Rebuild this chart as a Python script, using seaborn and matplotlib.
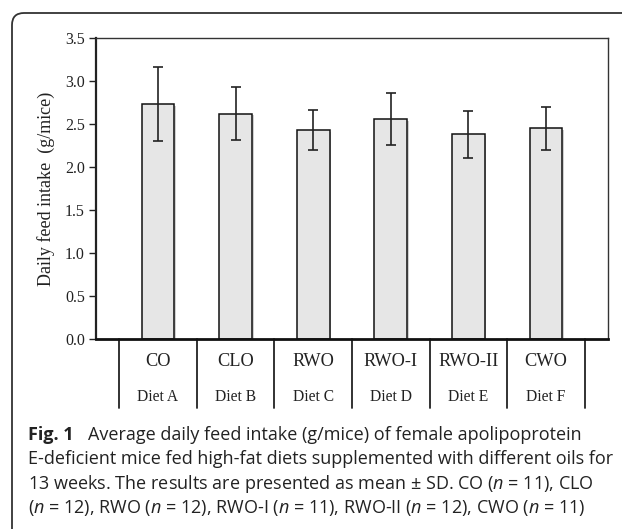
import numpy as np
import pandas as pd
import matplotlib
matplotlib.use("Agg")
import matplotlib.pyplot as plt
import matplotlib.patheffects as pe
import seaborn as sb
from matplotlib.patches import FancyBboxPatch
from matplotlib.transforms import IdentityTransform, blended_transform_factory

oils = ["CO", "CLO", "RWO", "RWO-I", "RWO-II", "CWO"]
diets = ["Diet A", "Diet B", "Diet C", "Diet D", "Diet E", "Diet F"]
intake_mean = [2.73, 2.62, 2.43, 2.56, 2.38, 2.45]
intake_sd = [0.43, 0.31, 0.23, 0.30, 0.27, 0.25]
y_ticks = [0.0, 0.5, 1.0, 1.5, 2.0, 2.5, 3.0, 3.5]

caption_rest = [
    "E-deficient mice fed high-fat diets supplemented with different oils for",
    "13 weeks. The results are presented as mean \u00b1 SD. CO ($n$ = 11), CLO",
    "($n$ = 12), RWO ($n$ = 12), RWO-I ($n$ = 11), RWO-II ($n$ = 12), CWO ($n$ = 11)",
]

t = pd.DataFrame({"oil": oils, "intake": intake_mean, "sd": intake_sd})

sb.set_theme(style="white")
plt.rcParams["font.family"] = "Liberation Serif"
plt.rcParams["mathtext.fontset"] = "custom"
plt.rcParams["mathtext.it"] = "Open Sans:italic"
plt.rcParams["mathtext.rm"] = "Open Sans"

W, H = 622, 529
fig = plt.figure(figsize=(W / 100, H / 100), dpi=100)
ax = fig.add_axes([96 / W, 1 - 339 / H, 512 / W, 301 / H])

sb.barplot(data=t, x="oil", y="intake", color="#e6e6e6", saturation=1,
           edgecolor="#111111", linewidth=1.1, width=0.42, errorbar=None, ax=ax)
for p in ax.patches:
    p.set_path_effects([pe.SimplePatchShadow(offset=(1.2, -1.2), alpha=0.25),
                        pe.Normal()])
ax.errorbar(np.arange(len(oils)), t["intake"], yerr=t["sd"], fmt="none",
            ecolor="#222222", elinewidth=1.2, capsize=3.3, capthick=1.2)

ax.set_ylim(0, 3.5)
ax.set_yticks(y_ticks)
ax.set_yticklabels([f"{v:.1f}" for v in y_ticks], fontsize=11.5, color="#222222")
ax.tick_params(axis="y", left=True, length=5, width=1, direction="out",
               pad=3, color="#222222")
ax.set_xticks([])
ax.set_xlabel("")
ax.set_ylabel("Daily feed intake  (g/mice)", fontsize=13, color="#222222",
              labelpad=7)

for side in ["top", "right"]:
    ax.spines[side].set_linewidth(1.0)
    ax.spines[side].set_color("#333333")
ax.spines["left"].set_linewidth(1.6)
ax.spines["left"].set_color("#222222")
ax.spines["bottom"].set_linewidth(2.0)
ax.spines["bottom"].set_color("#111111")

# category table under the axis
tr = blended_transform_factory(ax.transData, ax.transAxes)
for k in range(len(oils) + 1):
    ax.plot([k - 0.5, k - 0.5], [0, -0.229], transform=tr, clip_on=False,
            color="#222222", lw=1.3)
for i in range(len(oils)):
    ax.text(i, -0.076, oils[i], transform=tr, ha="center", va="center",
            fontsize=13.2, color="#222222")
    ax.text(i, -0.193, diets[i], transform=tr, ha="center", va="center",
            fontsize=11.2, color="#222222")

# rounded frame of the figure panel
frame = FancyBboxPatch((12, -40), 700, H - 13 + 40,
                       boxstyle="round,pad=0,rounding_size=12",
                       transform=IdentityTransform(), fill=False,
                       edgecolor="#333333", lw=1.3)
fig.patches.append(frame)

# caption
cap_font = {"family": "Open Sans", "size": 13, "color": "#222222"}
fig.text(28 / W, 1 - 440 / H, "Fig. 1", fontdict=cap_font,
         fontweight="bold", va="baseline")
fig.text(88 / W, 1 - 440 / H,
         "Average daily feed intake (g/mice) of female apolipoprotein",
         fontdict=cap_font, va="baseline")
for j, line in enumerate(caption_rest):
    fig.text(28 / W, 1 - (464.5 + 24.5 * j) / H, line, fontdict=cap_font,
             va="baseline")

fig.savefig("out.png", dpi=100)
